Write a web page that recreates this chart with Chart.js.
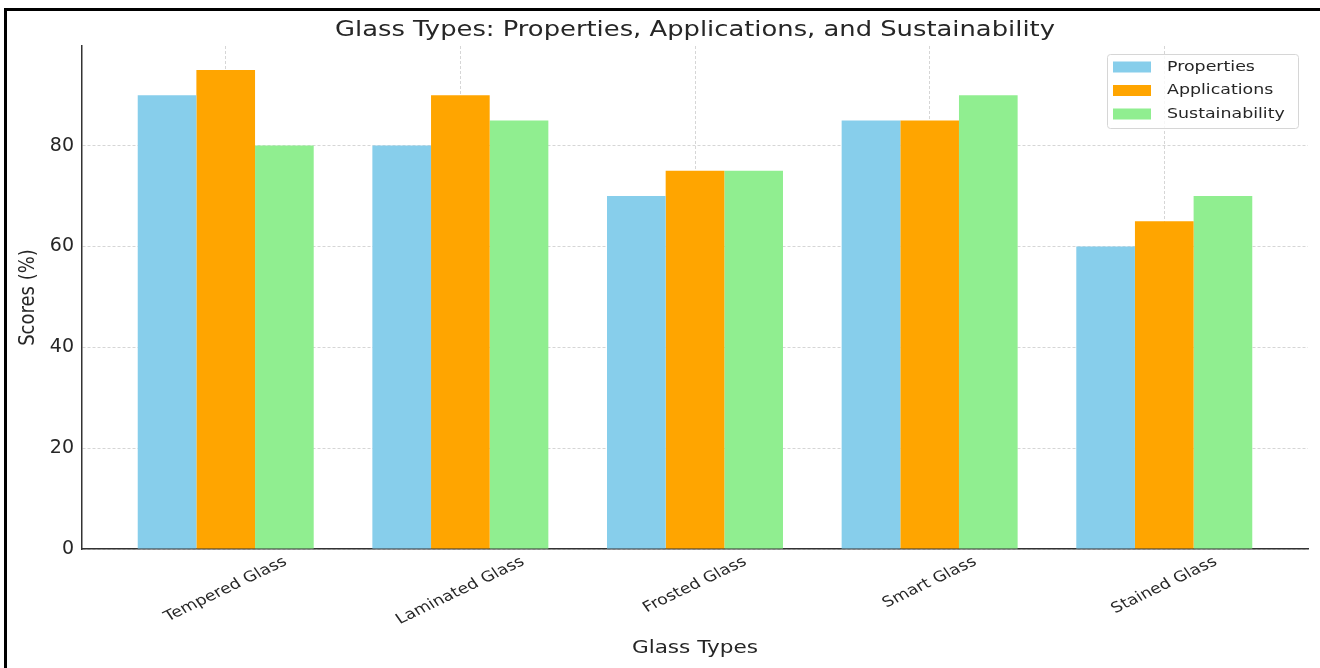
<!DOCTYPE html>
<html>
<head>
<meta charset="utf-8">
<script src="https://cdn.jsdelivr.net/npm/chart.js@4"></script>
<style>
  body { margin: 0; background: #fff; }
  #wrap { position: relative; width: 1320px; height: 668px; overflow: hidden; }
  #frame {
    position: absolute; left: 4px; top: 8px; width: 1320px; height: 668px;
    border-top: 3px solid #000; border-left: 3px solid #000; pointer-events: none;
  }
</style>
</head>
<body>
<div id="wrap">
  <canvas id="glassChart" width="1320" height="668"></canvas>
  <div id="frame"></div>
</div>
<script>
// data
const categories = ['Tempered Glass', 'Laminated Glass', 'Frosted Glass', 'Smart Glass', 'Stained Glass'];
const properties = [90, 80, 70, 85, 60];
const applications = [95, 90, 75, 85, 65];
const sustainability = [80, 85, 75, 90, 70];
const yTicks = [0, 20, 40, 60, 80];

const chartTitle = 'Glass Types: Properties, Applications, and Sustainability';
const xTitle = 'Glass Types';
const yTitle = 'Scores (%)';

const FONT = "'DejaVu Sans', sans-serif";
const TEXT = '#262626';
// the reference picture is a little wider than tall, so text looks stretched
const STRETCH = 1.2;

function toPoints(values) {
    return values.map((v, i) => ({ x: i, y: v }));
}

function stretchedText(ctx, text, x, y, size, angle) {
    ctx.save();
    ctx.font = size + 'px ' + FONT;
    ctx.fillStyle = TEXT;
    ctx.textAlign = 'center';
    ctx.textBaseline = 'middle';
    ctx.translate(x, y);
    ctx.scale(STRETCH, 1);
    ctx.rotate(angle || 0);
    ctx.fillText(text, 0, 0);
    ctx.restore();
}

// title, axis titles and rotated category labels
const textLayer = {
    id: 'textLayer',
    afterDraw(chart) {
        const { ctx, scales: { x }, chartArea } = chart;
        const midX = (chartArea.left + chartArea.right) / 2;
        const midY = (chartArea.top + chartArea.bottom) / 2;
        stretchedText(ctx, chartTitle, midX, 30, 21.5);
        stretchedText(ctx, xTitle, midX, 648, 18);
        stretchedText(ctx, yTitle, 28, midY, 18, -Math.PI / 2);

        const angle = 30 * Math.PI / 180;
        const size = 14.5;
        ctx.font = size + 'px ' + FONT;
        categories.forEach((label, i) => {
            const w = ctx.measureText(label).width;
            const boxH = w * Math.sin(angle) + 13 * Math.cos(angle);
            const cx = x.getPixelForValue(i);
            const cy = chartArea.bottom + 6 + boxH / 2;
            stretchedText(ctx, label, cx, cy, size, -angle);
        });
    }
};

// framed legend in the upper right corner
const boxLegend = {
    id: 'boxLegend',
    afterDraw(chart) {
        const { ctx, chartArea } = chart;
        const w = 191, h = 74;
        const left = chartArea.right - 10 - w;
        const top = chartArea.top + 8;
        ctx.save();
        ctx.fillStyle = 'rgba(255,255,255,0.8)';
        ctx.strokeStyle = '#d6d6d6';
        ctx.lineWidth = 1;
        ctx.beginPath();
        ctx.roundRect(left + 0.5, top + 0.5, w, h, 3);
        ctx.fill();
        ctx.stroke();
        chart.data.datasets.forEach((ds, i) => {
            const cy = top + 13 + i * 23.5;
            ctx.fillStyle = ds.backgroundColor;
            ctx.fillRect(left + 6, cy - 5.5, 38, 11);
            ctx.save();
            ctx.font = '14.5px ' + FONT;
            ctx.fillStyle = TEXT;
            ctx.textBaseline = 'middle';
            ctx.translate(left + 60, cy);
            ctx.scale(STRETCH, 1);
            ctx.fillText(ds.label, 0, 0);
            ctx.restore();
        });
        ctx.restore();
    }
};

const ctx = document.getElementById('glassChart').getContext('2d');
const glassChart = new Chart(ctx, {
    type: 'bar',
    data: {
        datasets: [
            { label: 'Properties', data: toPoints(properties), backgroundColor: '#87CEEB' },
            { label: 'Applications', data: toPoints(applications), backgroundColor: '#FFA500' },
            { label: 'Sustainability', data: toPoints(sustainability), backgroundColor: '#90EE90' }
        ]
    },
    options: {
        responsive: false,
        animation: false,
        categoryPercentage: 0.75,
        barPercentage: 1.0,
        borderWidth: 0,
        layout: { padding: { left: 0, right: 12, top: 46, bottom: 9 } },
        plugins: {
            legend: { display: false },
            tooltip: { enabled: false },
            title: { display: false }
        },
        scales: {
            x: {
                type: 'linear',
                min: -0.6125,
                max: 4.6125,
                offset: false,
                afterBuildTicks: (scale) => { scale.ticks = categories.map((c, i) => ({ value: i })); },
                afterFit: (scale) => { scale.height = 110; },
                ticks: { display: false },
                grid: { offset: false, drawTicks: false, color: 'rgba(0,0,0,0.16)', lineWidth: 1 },
                border: { color: '#333', width: 1.5, dash: [3, 2] }
            },
            y: {
                min: 0,
                max: 99.75,
                afterBuildTicks: (scale) => { scale.ticks = yTicks.map(v => ({ value: v })); },
                afterFit: (scale) => { scale.width = 82; },
                ticks: { color: TEXT, font: { family: FONT, size: 19 }, padding: 8 },
                grid: { drawTicks: false, color: 'rgba(0,0,0,0.16)', lineWidth: 1 },
                border: { color: '#333', width: 1.5, dash: [3, 2] }
            }
        }
    },
    plugins: [textLayer, boxLegend]
});
</script>
</body>
</html>
